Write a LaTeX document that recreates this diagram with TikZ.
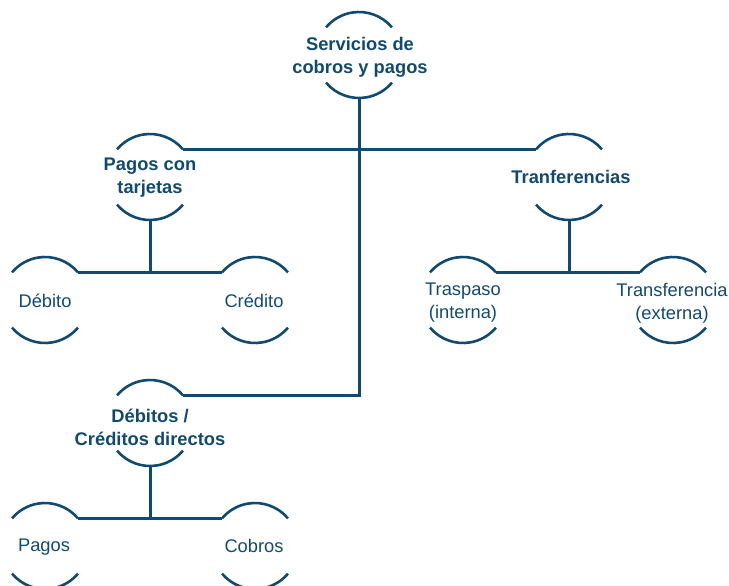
\documentclass[tikz,border=0pt]{standalone}
\usepackage{fontspec}
\setmainfont{Liberation Sans}
\definecolor{navy}{RGB}{17,74,112}
\begin{document}
\begin{tikzpicture}[x=1pt,y=-1pt,
  lbl/.style={inner sep=0pt,align=center,text=navy,font=\fontsize{18.3pt}{23pt}\selectfont},
  blbl/.style={lbl,font=\fontsize{18.3pt}{23pt}\selectfont\bfseries},
  ln/.style={draw=navy,line width=3pt},
  arcln/.style={draw=navy,line width=2.6pt}]
\useasboundingbox (0,0) rectangle (729,586);
\newcommand{\halfcirc}[1]{%
  \draw[arcln] ([shift={(40:43pt)}]#1.center) arc (40:140:43pt);
  \draw[arcln] ([shift={(220:43pt)}]#1.center) arc (220:320:43pt);
  \coordinate (#1-tr) at ([shift={(40:43pt)}]#1.center);
  \coordinate (#1-tl) at ([shift={(140:43pt)}]#1.center);
  \coordinate (#1-b) at ([yshift=-43pt]#1.center);}
% nodes
\node[blbl] (root) at (360,57) {Servicios de\\cobros y pagos};
\node[blbl] (tarj) at (150,178) {Pagos con\\tarjetas};
\node[blbl] (tranf) at (571,177) {Tranferencias};
\node[lbl] (deb) at (45,301) {Débito};
\node[lbl] (cred) at (254,301) {Crédito};
\node[lbl] (trasp) at (463,303) {Traspaso\\(interna)};
\node[lbl] (transext) at (672,303) {Transferencia\\(externa)};
\node[blbl] (dcd) at (150,427) {Débitos /\\Créditos directos};
\node[lbl] (pag) at (44,547) {Pagos};
\node[lbl] (cob) at (254,546) {Cobros};
% circle frames (circle centres)
\coordinate (c-root) at (359,55);
\coordinate (c-tarj) at (150,177);
\coordinate (c-tranf) at (569,177);
\coordinate (c-deb) at (45,300);
\coordinate (c-cred) at (255,300);
\coordinate (c-trasp) at (463,300);
\coordinate (c-transext) at (673,300);
\coordinate (c-dcd) at (150,423);
\coordinate (c-pag) at (45,546);
\coordinate (c-cob) at (255,546);
\foreach \n in {c-root,c-tarj,c-tranf,c-deb,c-cred,c-trasp,c-transext,c-dcd,c-pag,c-cob}{\halfcirc{\n}}
% connectors
\draw[ln] (c-tarj-tr) -- (c-tranf-tl);
\draw[ln] (c-root-b) |- (c-dcd-tr);
\draw[ln] (c-deb-tr) -- (c-cred-tl);
\draw[ln] (c-tarj-b) -- (c-tarj-b |- c-deb-tr);
\draw[ln] (c-trasp-tr) -- (c-transext-tl);
\draw[ln] (c-tranf-b) -- (c-tranf-b |- c-trasp-tr);
\draw[ln] (c-pag-tr) -- (c-cob-tl);
\draw[ln] (c-dcd-b) -- (c-dcd-b |- c-pag-tr);
\end{tikzpicture}
\end{document}
